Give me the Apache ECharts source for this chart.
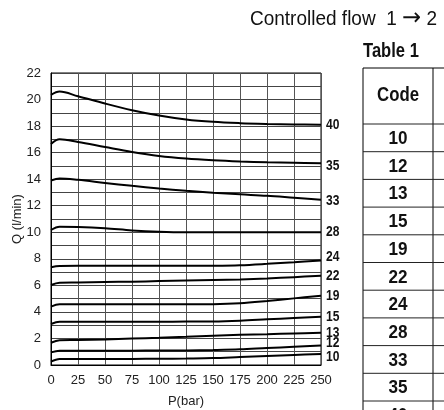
<!DOCTYPE html>
<html>
<head>
<meta charset="utf-8">
<script src="https://cdn.jsdelivr.net/npm/echarts@6/dist/echarts.min.js"></script>
<style>html,body{margin:0;padding:0;background:#fff}#c{width:444px;height:410px}</style>
</head>
<body>
<div id="c"></div>
<script>
const pressures = [0, 8, 25, 50, 75, 100, 125, 150, 175, 200, 225, 250];
const s40 = [20.35, 20.6, 20.25, 19.7, 19.2, 18.8, 18.5, 18.32, 18.22, 18.16, 18.12, 18.1];
const s35 = [16.65, 17.0, 16.8, 16.42, 16.05, 15.75, 15.55, 15.42, 15.33, 15.27, 15.23, 15.2];
const s33 = [13.9, 14.05, 13.95, 13.72, 13.5, 13.3, 13.13, 12.98, 12.86, 12.75, 12.6, 12.45];
const s28 = [10.17, 10.42, 10.4, 10.3, 10.14, 10.04, 10.0, 10.0, 10.0, 10.0, 10.0, 10.0];
const s24 = [7.36, 7.46, 7.47, 7.47, 7.47, 7.47, 7.47, 7.48, 7.52, 7.62, 7.74, 7.88];
const s22 = [6.03, 6.2, 6.22, 6.25, 6.28, 6.32, 6.36, 6.4, 6.45, 6.52, 6.62, 6.72];
const s19 = [4.4, 4.57, 4.57, 4.57, 4.57, 4.57, 4.57, 4.58, 4.65, 4.82, 5.02, 5.22];
const s15 = [3.09, 3.26, 3.26, 3.26, 3.26, 3.26, 3.27, 3.28, 3.34, 3.44, 3.54, 3.64];
const s13 = [1.68, 1.86, 1.88, 1.93, 1.99, 2.05, 2.12, 2.2, 2.27, 2.32, 2.38, 2.43];
const s12 = [0.95, 1.08, 1.08, 1.08, 1.08, 1.09, 1.1, 1.13, 1.18, 1.28, 1.37, 1.46];
const s10 = [0.25, 0.45, 0.45, 0.45, 0.46, 0.47, 0.49, 0.52, 0.6, 0.68, 0.76, 0.83];
const seriesNames = ['40', '35', '33', '28', '24', '22', '19', '15', '13', '12', '10'];
const seriesValues = [s40, s35, s33, s28, s24, s22, s19, s15, s13, s12, s10];
const labelShift = [0, 3, 1, 0, -3, 0, 0, 0, 0, -3, 3];
const tableCodes = ['10', '12', '13', '15', '19', '22', '24', '28', '33', '35', '40'];
const titleMain = 'Controlled flow  1 ';
const titleArrow = '\u2192';
const titleEnd = ' 2';
const tableTitle = 'Table 1';
const tableHeader = 'Code';

const plain = '"Liberation Sans", Arial, Helvetica, sans-serif';

const chart = echarts.init(document.getElementById('c'));

const series = seriesValues.map((vals, i) => ({
  type: 'line',
  name: seriesNames[i],
  data: vals.map((v, j) => [pressures[j], v]),
  smooth: 0.35,
  showSymbol: false,
  symbol: 'none',
  lineStyle: { color: '#000', width: 2 },
  silent: true
}));

chart.setOption({
  animation: false,
  backgroundColor: '#fff',
  grid: { left: 51, right: 123, top: 73, bottom: 45, show: true, borderColor: '#000', borderWidth: 1, containLabel: false, outerBoundsMode: 'none' },
  xAxis: {
    type: 'value', min: 0, max: 250, interval: 25,
    name: 'P(bar)', nameLocation: 'middle', nameGap: 30, nameMoveOverlap: false,
    nameTextStyle: { fontFamily: plain, fontSize: 13, color: '#222' },
    axisLine: { show: true, lineStyle: { color: '#000' } },
    axisTick: { show: false },
    axisLabel: { fontFamily: plain, fontSize: 13, color: '#222', margin: 9 },
    splitLine: { show: true, lineStyle: { color: '#555', width: 1 } }
  },
  yAxis: {
    type: 'value', min: 0, max: 22, interval: 2,
    name: 'Q (l/min)', nameLocation: 'middle', nameGap: 27, nameRotate: 90, nameMoveOverlap: false,
    nameTextStyle: { fontFamily: plain, fontSize: 13, color: '#222' },
    axisLine: { show: true, lineStyle: { color: '#000' } },
    axisTick: { show: false },
    axisLabel: { fontFamily: plain, fontSize: 13, color: '#222', margin: 10 },
    splitLine: { show: true, lineStyle: { color: '#444', width: 1 } },
    minorTick: { show: false, splitNumber: 2 },
    minorSplitLine: { show: true, lineStyle: { color: '#444', width: 1 } }
  },
  series: series
});

const graphic = [];
function ntext(str, x, y, size, bold, align, sx) {
  return {
    type: 'text', x: x, y: y, scaleX: sx, originX: 0,
    style: { text: str, x: 0, y: 0, align: align, verticalAlign: 'middle', fontFamily: plain, fontWeight: bold ? 'bold' : 'normal', fontSize: size, fill: '#111' }
  };
}
graphic.push({
  type: 'text', x: 437, y: 19, scaleX: 0.95, originX: 0,
  style: {
    text: '{m|' + titleMain + '}{a|' + titleArrow + '}{m|' + titleEnd + '}',
    align: 'right', verticalAlign: 'middle',
    rich: {
      m: { fontFamily: plain, fontSize: 20, fill: '#111', color: '#111' },
      a: { fontFamily: '"DejaVu Sans"', fontSize: 24, fill: '#111', color: '#111' }
    }
  }
});
graphic.push(ntext(tableTitle, 363, 52, 19.5, true, 'left', 0.85));

seriesValues.forEach((vals, i) => {
  const last = vals.length - 1;
  const p = chart.convertToPixel({ gridIndex: 0 }, [pressures[last], vals[last]]);
  graphic.push(ntext(seriesNames[i], p[0] + 5, p[1] + labelShift[i], 14.5, true, 'left', 0.83));
});

const tX = 363, tTop = 68, headH = 56, rowH = 27.7, colW = 70, tRight = 480;
graphic.push({ type: 'line', shape: { x1: tX, y1: tTop, x2: tRight, y2: tTop }, style: { stroke: '#000', lineWidth: 1 } });
graphic.push({ type: 'line', shape: { x1: tX, y1: tTop, x2: tX, y2: 420 }, style: { stroke: '#000', lineWidth: 1 } });
graphic.push({ type: 'line', shape: { x1: tX + colW, y1: tTop, x2: tX + colW, y2: 420 }, style: { stroke: '#000', lineWidth: 1 } });
graphic.push(ntext(tableHeader, tX + colW / 2, tTop + headH / 2, 19.5, true, 'center', 0.86));
tableCodes.forEach((c, i) => {
  const y0 = tTop + headH + i * rowH;
  graphic.push({ type: 'line', shape: { x1: tX, y1: y0, x2: tRight, y2: y0 }, style: { stroke: '#222', lineWidth: 1 } });
  graphic.push(ntext(c, tX + colW / 2, y0 + rowH / 2 + 1, 19, true, 'center', 0.9));
});

chart.setOption({ graphic: graphic });
</script>
</body>
</html>
